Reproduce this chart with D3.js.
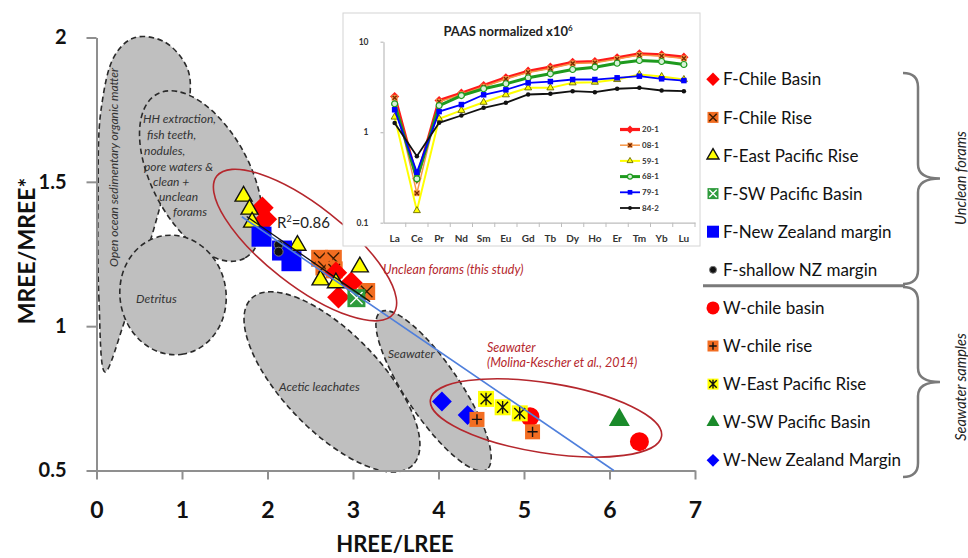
<!DOCTYPE html>
<html>
<head>
<meta charset="utf-8">
<script src="https://cdn.jsdelivr.net/npm/d3@7"></script>
<style>
body { margin: 0; background: #fff; }
svg { display: block; }
</style>
</head>
<body>
<script>
const W = 968, H = 558;

////  Data  ////
// main plot: [HREE/LREE, MREE/MREE*]
const fChileBasin = [[1.94, 1.41], [1.98, 1.37], [2.80, 1.185], [2.83, 1.10], [2.98, 1.15]];
const fChileRise = [[2.61, 1.235], [2.77, 1.235], [2.66, 1.205], [2.78, 1.195], [3.16, 1.12]];
const fEastPacificRise = [[1.72, 1.45], [1.79, 1.405], [1.82, 1.36], [2.35, 1.28], [2.62, 1.16], [2.80, 1.15], [3.08, 1.205]];
const fSWPacificBasin = [[3.04, 1.097]];
const fNewZealand = [[1.93, 1.31], [2.17, 1.262], [2.28, 1.225]];
const fShallowNZ = [[2.13, 1.282], [2.13, 1.258]];
const wChileBasin = [[5.07, 0.686], [6.35, 0.60]];
const wChileRise = [[4.45, 0.677], [5.10, 0.634]];
const wEastPacificRise = [[4.556, 0.748], [4.75, 0.719], [4.95, 0.698]];
const wSWPacificBasin = [[6.115, 0.675]];
const wNewZealand = [[4.04, 0.739], [4.34, 0.692]];

// regression lines (end points)
const fitAll = [[1.70, 1.379], [6.05, 0.50]];
const fitForams = [[1.757, 1.38], [3.20, 1.085]];

const xTicks = [0, 1, 2, 3, 4, 5, 6, 7];
const yTicks = [0.5, 1, 1.5, 2];

// inset: PAAS normalized REE patterns
const reeLabels = ["La", "Ce", "Pr", "Nd", "Sm", "Eu", "Gd", "Tb", "Dy", "Ho", "Er", "Tm", "Yb", "Lu"];
const s20_1 = [2.48, 0.305, 2.24, 2.70, 3.28, 3.99, 4.72, 5.23, 5.93, 6.04, 6.64, 7.35, 7.16, 6.74];
const s08_1 = [2.40, 0.212, 2.17, 2.62, 3.18, 3.87, 4.58, 5.07, 5.75, 5.86, 6.44, 7.13, 6.95, 6.54];
const s59_1 = [1.47, 0.136, 1.41, 1.74, 2.14, 2.59, 3.09, 3.09, 3.51, 3.57, 3.82, 4.34, 4.12, 3.82];
const s68_1 = [2.06, 0.305, 1.97, 2.54, 3.02, 3.43, 3.99, 4.42, 4.93, 5.23, 5.78, 6.20, 6.04, 5.60];
const s79_1 = [1.77, 0.361, 1.69, 2.02, 2.59, 2.94, 3.51, 3.63, 3.82, 3.82, 3.99, 4.16, 3.89, 3.72];
const s84_2 = [1.26, 0.543, 1.27, 1.53, 1.86, 2.11, 2.61, 2.66, 2.84, 2.77, 3.02, 3.09, 2.89, 2.84];
const insetTicks = [0.1, 1, 10];

////  Canvas  ////
const svg = d3.select("body").append("svg").attr("width", W).attr("height", H);
svg.append("rect").attr("width", W).attr("height", H).attr("fill", "#fff");

const x = d3.scaleLinear().domain([0, 7]).range([96.5, 695]);
const y = d3.scaleLinear().domain([0.5, 2]).range([470.5, 37.5]);

////  Marker helper  ////
function drawMarker(g, st, s) {
    const sym = {diamond: d3.symbolSquare, square: d3.symbolSquare, triangle: d3.symbolTriangle, circle: d3.symbolCircle}[st.shape];
    let area = s * s;
    if (st.shape === "triangle") area = Math.sqrt(3) / 4 * s * s;
    if (st.shape === "circle") area = Math.PI * s * s / 4;
    g.append("path")
        .attr("d", d3.symbol(sym, area)())
        .attr("transform", st.shape === "diamond" ? "rotate(45)" : null)
        .attr("fill", st.fill)
        .attr("stroke", st.stroke || "none")
        .attr("stroke-width", st.sw || 1);
    if (st.glyph) {
        const r = s * 0.34;
        let d = "";
        if (st.glyph === "x" || st.glyph === "asterisk") d += `M${-r},${-r}L${r},${r}M${-r},${r}L${r},${-r}`;
        if (st.glyph === "plus") d += `M0,${-r}L0,${r}M${-r},0L${r},0`;
        if (st.glyph === "asterisk") d += `M0,${-r * 1.15}L0,${r * 1.15}`;
        g.append("path").attr("d", d).attr("stroke", st.glyphColor).attr("stroke-width", 1.4).attr("fill", "none");
    }
}

const series = [
    {label: "F-Chile Basin", pts: fChileBasin, shape: "diamond", fill: "#ff0000", size: 16, lsize: 9.5},
    {label: "F-Chile Rise", pts: fChileRise, shape: "square", fill: "#f26d21", glyph: "x", glyphColor: "#3a1a00", size: 17, lsize: 11},
    {label: "F-East Pacific Rise", pts: fEastPacificRise, shape: "triangle", fill: "#ffff00", stroke: "#111", sw: 1.4, size: 17, lsize: 12},
    {label: "F-SW Pacific Basin", pts: fSWPacificBasin, shape: "square", fill: "#2e9b3c", glyph: "x", glyphColor: "#fff", size: 18, lsize: 11},
    {label: "F-New Zealand margin", pts: fNewZealand, shape: "square", fill: "#0000ff", size: 20, lsize: 12},
    {label: "F-shallow NZ margin", pts: fShallowNZ, shape: "circle", fill: "#111", stroke: "#777", sw: 1, size: 9, lsize: 7},
    {label: "W-chile basin", pts: wChileBasin, shape: "circle", fill: "#ff0000", size: 19, lsize: 13},
    {label: "W-chile rise", pts: wChileRise, shape: "square", fill: "#f26d21", glyph: "plus", glyphColor: "#111", size: 15, lsize: 11},
    {label: "W-East Pacific Rise", pts: wEastPacificRise, shape: "square", fill: "#ffff00", glyph: "asterisk", glyphColor: "#111", size: 16, lsize: 11},
    {label: "W-SW Pacific Basin", pts: wSWPacificBasin, shape: "triangle", fill: "#1a8a2a", size: 21, lsize: 13},
    {label: "W-New Zealand Margin", pts: wNewZealand, shape: "diamond", fill: "#0000ff", size: 14, lsize: 9}
];

////  Grey fields  ////
const fieldG = svg.append("g")
    .attr("fill", "#bfbfbf").attr("stroke", "#2a2a2a")
    .attr("stroke-width", 1.6).attr("stroke-dasharray", "5.5,3.5");

const openOcean = [[0.099, 0.841], [0.029, 1.091], [0.018, 1.437], [0.053, 1.749], [0.216, 1.939], [0.45, 2.0],
    [0.80, 1.984], [1.07, 1.887], [1.07, 1.749], [0.86, 1.541], [0.65, 1.316], [0.333, 1.021]];
fieldG.append("path")
    .attr("d", d3.line().x(d => x(d[0])).y(d => y(d[1])).curve(d3.curveCatmullRomClosed.alpha(0.5))(openOcean));

const fields = [
    {cx: 1.222, cy: 1.520, rx: 93, ry: 49, rot: 62},   // HH extraction ...
    {cx: 0.895, cy: 1.108, rx: 60, ry: 53, rot: 80},   // detritus
    {cx: 2.754, cy: 0.807, rx: 116, ry: 49, rot: 46},  // acetic leachates
    {cx: 3.942, cy: 0.776, rx: 95, ry: 27, rot: 56}    // seawater
];
fieldG.selectAll("ellipse.field").data(fields).enter().append("ellipse")
    .attr("class", "field")
    .attr("rx", d => d.rx).attr("ry", d => d.ry)
    .attr("transform", d => `translate(${x(d.cx)},${y(d.cy)}) rotate(${d.rot})`);

const fieldText = svg.append("g")
    .attr("font-family", "Lato, 'Open Sans', sans-serif").attr("font-style", "italic")
    .attr("font-size", "12px").attr("fill", "#333");
const hhLines = [["HH extraction,", 0.544, 1.704], ["fish teeth,", 0.591, 1.648], ["nodules,", 0.556, 1.593],
    ["pore waters &", 0.556, 1.538], ["clean +", 0.661, 1.486], ["unclean", 0.731, 1.434], ["forams", 0.895, 1.382]];
fieldText.selectAll("text.hh").data(hhLines).enter().append("text")
    .attr("x", d => x(d[1])).attr("y", d => y(d[2])).text(d => d[0]);
fieldText.append("text").attr("x", x(0.462)).attr("y", y(1.080)).text("Detritus");
fieldText.append("text").attr("x", x(2.135)).attr("y", y(0.776)).text("Acetic leachates");
fieldText.append("text").attr("x", x(3.409)).attr("y", y(0.890)).text("Seawater");
fieldText.append("text")
    .attr("transform", `translate(${x(0.25)},${y(1.55)}) rotate(-90)`)
    .attr("text-anchor", "middle").text("Open ocean sedimentary organic matter");

////  Axes  ////
const yAxis = svg.append("g").attr("transform", `translate(${x(0)},0)`)
    .call(d3.axisLeft(y).tickValues(yTicks).tickSizeInner(10).tickSizeOuter(0).tickPadding(20).tickFormat(d => d));
const xAxis = svg.append("g").attr("transform", `translate(0,${y(0.5)})`)
    .call(d3.axisBottom(x).tickValues(xTicks).tickSizeInner(9).tickSizeOuter(0).tickPadding(22).tickFormat(d => d));
[yAxis, xAxis].forEach(a => {
    a.selectAll("path.domain, line").attr("stroke", "#8f8f8f").attr("stroke-width", 2);
    a.selectAll("text").attr("font-family", "Lato, sans-serif").attr("font-weight", "bold").attr("fill", "#111");
});
yAxis.selectAll("text").attr("font-size", "20px");
xAxis.selectAll("text").attr("font-size", "23px");

svg.append("text").attr("x", 395).attr("y", 552).attr("text-anchor", "middle")
    .attr("font-family", "Lato, sans-serif").attr("font-weight", "bold").attr("font-size", "22px").attr("fill", "#111")
    .text("HREE/LREE");
svg.append("text").attr("transform", "translate(35,251) rotate(-90)").attr("text-anchor", "middle")
    .attr("font-family", "Lato, sans-serif").attr("font-weight", "bold").attr("font-size", "23px").attr("fill", "#111")
    .text("MREE/MREE*");

////  Points  ////
const drawOrder = [1, 0, 2, 4, 5, 3, 10, 6, 8, 7, 9];
drawOrder.forEach(i => {
    const st = series[i];
    svg.append("g").selectAll("g").data(st.pts).enter().append("g")
        .attr("transform", d => `translate(${x(d[0])},${y(d[1])})`)
        .each(function () { drawMarker(d3.select(this), st, st.size); });
});

////  Regression lines  ////
const line = d3.line().x(d => x(d[0])).y(d => y(d[1]));
svg.append("path").attr("d", line(fitAll)).attr("stroke", "#4f7fdc").attr("stroke-width", 1.6).attr("fill", "none");
svg.append("path").attr("d", line(fitForams)).attr("stroke", "#111").attr("stroke-width", 1.3).attr("fill", "none");

////  Red ellipses + labels  ////
const groups = [
    {cx: 2.439, cy: 1.281, rx: 112, ry: 40, rot: 38},
    {cx: 5.257, cy: 0.682, rx: 117, ry: 35, rot: 9}
];
svg.selectAll("ellipse.grp").data(groups).enter().append("ellipse")
    .attr("class", "grp").attr("rx", d => d.rx).attr("ry", d => d.ry)
    .attr("transform", d => `translate(${x(d.cx)},${y(d.cy)}) rotate(${d.rot})`)
    .attr("fill", "none").attr("stroke", "#b5272d").attr("stroke-width", 1.6);

const redText = svg.append("g").attr("font-family", "Lato, sans-serif").attr("font-style", "italic")
    .attr("font-size", "12.5px").attr("fill", "#b5272d");
redText.append("text").attr("x", x(3.351)).attr("y", y(1.181)).text("Unclean forams (this study)");
redText.append("text").attr("x", x(4.567)).attr("y", y(0.911)).text("Seawater");
redText.append("text").attr("x", x(4.567)).attr("y", y(0.859)).text("(Molina-Kescher et al., 2014)");

const r2 = svg.append("text").attr("x", x(2.111)).attr("y", y(1.340))
    .attr("font-family", "Lato, sans-serif").attr("font-size", "15px").attr("fill", "#222");
r2.append("tspan").text("R");
r2.append("tspan").attr("dy", -6).attr("font-size", "9px").text("2");
r2.append("tspan").attr("dy", 6).text("=0.86");

////  Inset  ////
const inset = svg.append("g");
inset.append("rect").attr("x", 343).attr("y", 13).attr("width", 357).attr("height", 233)
    .attr("fill", "#fff").attr("stroke", "#d4d4d4").attr("stroke-width", 1);

const ix = d3.scaleBand().domain(reeLabels).range([383.5, 695]);
const iy = d3.scaleLog().domain([0.1, 10]).range([222.7, 41.7]);

const iyAxis = inset.append("g").attr("transform", "translate(383.5,0)")
    .call(d3.axisLeft(iy).tickValues(insetTicks).tickSizeInner(3).tickSizeOuter(0).tickPadding(12).tickFormat(d => d));
const ixAxis = inset.append("g").attr("transform", "translate(0,222.7)")
    .call(d3.axisBottom(ix).tickSize(0).tickPadding(12));
[iyAxis, ixAxis].forEach(a => {
    a.selectAll("path.domain, line").attr("stroke", "#bdbdbd").attr("stroke-width", 1.2);
    a.selectAll("text").attr("font-family", "Lato, sans-serif").attr("font-weight", "bold").attr("fill", "#333");
});
iyAxis.selectAll("text").attr("font-size", "8.5px");
ixAxis.selectAll("text").attr("font-size", "10px");
inset.append("g").selectAll("line").data(reeLabels).enter().append("line")
    .attr("x1", d => ix(d) + ix.bandwidth()).attr("x2", d => ix(d) + ix.bandwidth())
    .attr("y1", 222.7).attr("y2", 227).attr("stroke", "#bdbdbd");

inset.append("text").attr("x", 508).attr("y", 36).attr("text-anchor", "middle")
    .attr("font-family", "Lato, sans-serif").attr("font-weight", "bold").attr("font-size", "13px").attr("fill", "#222")
    .call(t => {
        t.append("tspan").text("PAAS normalized x10");
        t.append("tspan").attr("dy", -5).attr("font-size", "8px").text("6");
    });

const insetSeries = [
    {name: "20-1", vals: s20_1, color: "#ff1a1a", w: 3.2, st: {shape: "diamond", fill: "#ff1a1a"}, ms: 6.5},
    {name: "08-1", vals: s08_1, color: "#f79646", w: 1.5, st: {shape: "square", fill: "#f79646", glyph: "x", glyphColor: "#7a2a00"}, ms: 6},
    {name: "59-1", vals: s59_1, color: "#ffff00", w: 2, st: {shape: "triangle", fill: "#ffff00", stroke: "#6b6b00", sw: 0.9}, ms: 7},
    {name: "68-1", vals: s68_1, color: "#1e9a1e", w: 3, st: {shape: "circle", fill: "#d8f2d8", stroke: "#1e9a1e", sw: 1.2}, ms: 6},
    {name: "79-1", vals: s79_1, color: "#0000ff", w: 1.8, st: {shape: "square", fill: "#0000ff"}, ms: 5.5},
    {name: "84-2", vals: s84_2, color: "#111", w: 1.8, st: {shape: "circle", fill: "#111"}, ms: 4.5}
];
const iline = d3.line().x((d, i) => ix(reeLabels[i]) + ix.bandwidth() / 2).y(d => iy(d));
insetSeries.forEach(s => {
    inset.append("path").attr("d", iline(s.vals)).attr("stroke", s.color).attr("stroke-width", s.w).attr("fill", "none");
    inset.append("g").selectAll("g").data(s.vals).enter().append("g")
        .attr("transform", (d, i) => `translate(${ix(reeLabels[i]) + ix.bandwidth() / 2},${iy(d)})`)
        .each(function () { drawMarker(d3.select(this), s.st, s.ms); });
});

// inset legend
const ileg = inset.append("g").selectAll("g").data(insetSeries).enter().append("g")
    .attr("transform", (d, i) => `translate(630,${129.5 + i * 15.7})`);
ileg.append("line").attr("x1", -10).attr("x2", 10).attr("stroke", d => d.color).attr("stroke-width", d => d.w);
ileg.each(function (d) { drawMarker(d3.select(this), d.st, d.ms * 0.85); });
ileg.append("text").attr("x", 12).attr("dy", "0.35em").text(d => d.name)
    .attr("font-family", "Lato, sans-serif").attr("font-weight", "bold").attr("font-size", "8px").attr("fill", "#333");

////  Main legend  ////
const leg = svg.append("g").selectAll("g").data(series).enter().append("g")
    .attr("transform", (d, i) => `translate(713,${79.3 + i * 38.1})`);
leg.each(function (d) { drawMarker(d3.select(this), d, d.lsize); });
leg.append("text").attr("x", 10).attr("dy", "0.36em").text(d => d.label)
    .attr("font-family", "Lato, sans-serif").attr("font-size", "17px").attr("fill", "#111");

// braces
function bracePath(x0, y0, y1) {
    const xm = x0 + 15, xt = x0 + 37, r = 14, ym = (y0 + y1) / 2;
    return `M${x0},${y0} Q${xm},${y0} ${xm},${y0 + r} L${xm},${ym - r} Q${xm},${ym} ${xt},${ym}` +
        ` Q${xm},${ym} ${xm},${ym + r} L${xm},${y1 - r} Q${xm},${y1} ${x0},${y1}`;
}
const braceG = svg.append("g").attr("fill", "none").attr("stroke", "#7a7a7a").attr("stroke-width", 2.5);
braceG.append("path").attr("d", bracePath(903, 73, 284));
braceG.append("path").attr("d", bracePath(903, 287, 477));
braceG.append("line").attr("x1", 703).attr("x2", 905).attr("y1", 285.7).attr("y2", 285.7).attr("stroke-width", 3);

const braceText = svg.append("g").attr("font-family", "Lato, sans-serif").attr("font-style", "italic")
    .attr("font-size", "14.5px").attr("fill", "#222").attr("text-anchor", "middle");
braceText.append("text").attr("transform", "translate(966,178) rotate(-90)").text("Unclean forams");
braceText.append("text").attr("transform", "translate(966,387) rotate(-90)").text("Seawater samples");
</script>
</body>
</html>
